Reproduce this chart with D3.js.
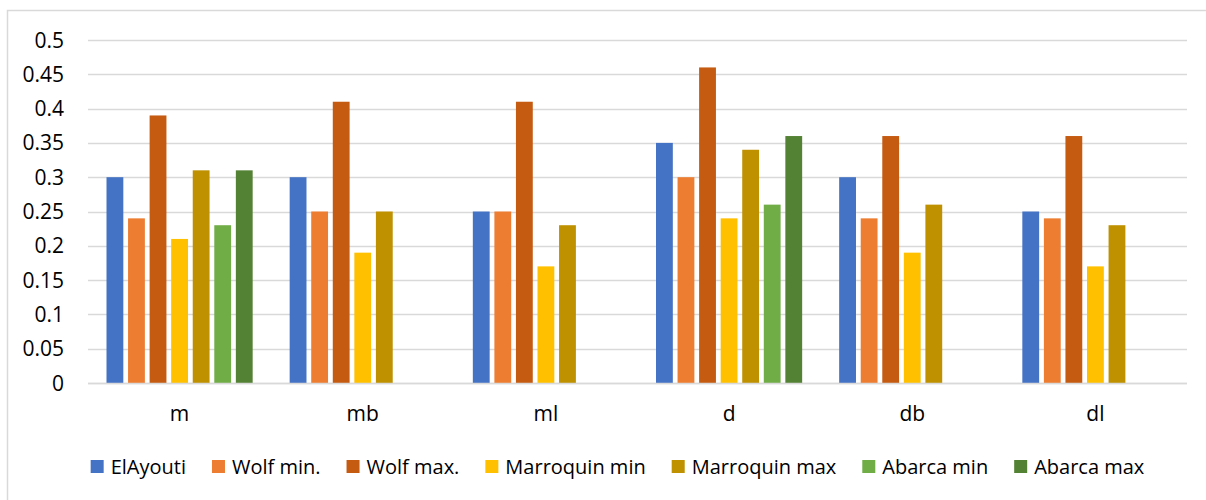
<!DOCTYPE html>
<html>
<head>
<meta charset="utf-8">
<script src="https://cdn.jsdelivr.net/npm/d3@7"></script>
<style>
  html, body { margin: 0; padding: 0; background: #fff; }
  svg { display: block; }
  text { font-family: "Open Sans", "Noto Sans", sans-serif; fill: #000; }
</style>
</head>
<body>
<svg id="chart" width="1206" height="500"></svg>
<script>
const categories = ["m", "mb", "ml", "d", "db", "dl"];
const seriesNames = ["ElAyouti", "Wolf min.", "Wolf max.", "Marroquin min", "Marroquin max", "Abarca min", "Abarca max"];
const seriesColors = ["#4472C4", "#ED7D31", "#C55A11", "#FFC000", "#BF9000", "#70AD47", "#548235"];
const elAyouti     = [0.30, 0.30, 0.25, 0.35, 0.30, 0.25];
const wolfMin      = [0.24, 0.25, 0.25, 0.30, 0.24, 0.24];
const wolfMax      = [0.39, 0.41, 0.41, 0.46, 0.36, 0.36];
const marroquinMin = [0.21, 0.19, 0.17, 0.24, 0.19, 0.17];
const marroquinMax = [0.31, 0.25, 0.23, 0.34, 0.26, 0.23];
const abarcaMin    = [0.23, null, null, 0.26, null, null];
const abarcaMax    = [0.31, null, null, 0.36, null, null];
const yTicks = [0, 0.05, 0.1, 0.15, 0.2, 0.25, 0.3, 0.35, 0.4, 0.45, 0.5];

const seriesValues = [elAyouti, wolfMin, wolfMax, marroquinMin, marroquinMax, abarcaMin, abarcaMax];

const svg = d3.select("#chart");

// chart border
svg.append("rect")
  .attr("x", 7.5).attr("y", 10.5)
  .attr("width", 1210).attr("height", 500)
  .attr("fill", "#fff").attr("stroke", "#d9d9d9").attr("stroke-width", 1.5);

const plot = { left: 88, right: 1187, top: 40, bottom: 383 };

const y = d3.scaleLinear().domain([0, 0.5]).range([plot.bottom, plot.top]);
const x0 = d3.scaleBand().domain(categories).range([plot.left, plot.right]).padding(0);
const inset = 18.5;
const x1 = d3.scaleBand().domain(seriesNames)
  .range([inset, x0.bandwidth() - inset]).paddingInner(0.22).paddingOuter(0);

// gridlines
svg.append("g").selectAll("line").data(yTicks).join("line")
  .attr("x1", plot.left).attr("x2", plot.right)
  .attr("y1", d => Math.round(y(d)) + 0.5).attr("y2", d => Math.round(y(d)) + 0.5)
  .attr("stroke", "#d9d9d9").attr("stroke-width", 1.5);

// y tick labels
svg.append("g").selectAll("text").data(yTicks).join("text")
  .attr("x", 64).attr("y", d => y(d))
  .attr("dy", "0.36em")
  .attr("text-anchor", "end")
  .style("font-size", "21px")
  .text(d => d3.format("")(d));

// bars
const groups = svg.append("g").selectAll("g").data(categories).join("g")
  .attr("transform", c => `translate(${x0(c)},0)`);

groups.each(function(c, ci) {
  const data = seriesNames.map((s, si) => ({ s, si, v: seriesValues[si][ci] }))
    .filter(d => d.v !== null && d.v !== undefined);
  d3.select(this).selectAll("rect").data(data).join("rect")
    .attr("x", d => x1(d.s))
    .attr("width", x1.bandwidth())
    .attr("y", d => y(d.v))
    .attr("height", d => y(0) - y(d.v))
    .attr("fill", d => seriesColors[d.si]);
});

// baseline axis line
svg.append("line")
  .attr("x1", plot.left).attr("x2", plot.right)
  .attr("y1", plot.bottom + 0.5).attr("y2", plot.bottom + 0.5)
  .attr("stroke", "#d9d9d9").attr("stroke-width", 1.5);

// category labels
svg.append("g").selectAll("text").data(categories).join("text")
  .attr("x", c => x0(c) + x0.bandwidth() / 2)
  .attr("y", 421)
  .attr("text-anchor", "middle")
  .style("font-size", "21px")
  .text(c => c);

// legend
const legend = svg.append("g");
const items = legend.selectAll("g").data(seriesNames).join("g");
items.append("rect")
  .attr("width", 13).attr("height", 13)
  .attr("y", 460)
  .attr("fill", (d, i) => seriesColors[i]);
items.append("text")
  .attr("x", 20).attr("y", 466.5).attr("dy", "0.36em")
  .style("font-size", "20px")
  .text(d => d);
const widths = [];
items.each(function() {
  const w = 20 + d3.select(this).select("text").node().getComputedTextLength();
  widths.push(w);
});
const gap = 26;
const total = d3.sum(widths) + gap * (widths.length - 1);
let start = 617.5 - total / 2;
items.attr("transform", (d, i) => {
  const tx = start;
  start += widths[i] + gap;
  return `translate(${tx},0)`;
});
</script>
</body>
</html>
